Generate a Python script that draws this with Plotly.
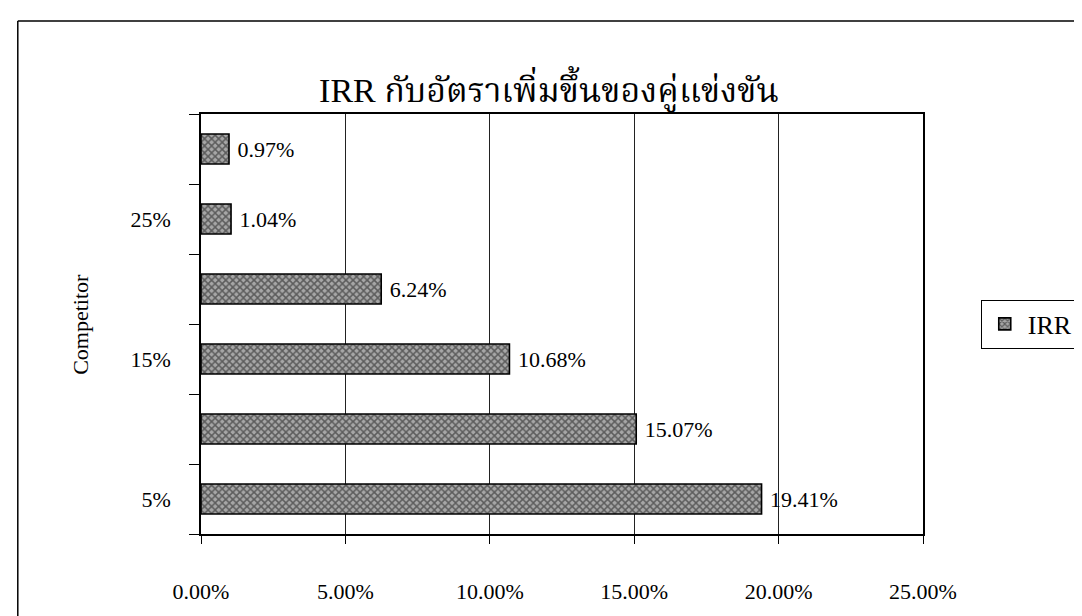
import plotly.graph_objects as go

# ---- data ----
categories = ["5%", "10%", "15%", "20%", "25%", "30%"]
irr = [0.1941, 0.1507, 0.1068, 0.0624, 0.0104, 0.0097]
shown_labels = ["5%", "15%", "25%"]
x_tick_values = [0.0, 0.05, 0.10, 0.15, 0.20, 0.25]
title_text = "IRR กับอัตราเพิ่มขึ้นของคู่แข่งขัน"
series_name = "IRR"
y_title = "Competitor"

positions = list(range(1, len(categories) + 1))
label_positions = [positions[categories.index(c)] for c in shown_labels]
boundaries = [p - 0.5 for p in positions] + [positions[-1] + 0.5]

SERIF = "Liberation Serif, Times New Roman, Noto Serif Thai, Noto Sans Thai, serif"

fig = go.Figure()
fig.add_trace(go.Bar(
    y=positions,
    x=irr,
    orientation="h",
    name=series_name,
    width=0.43,
    marker=dict(
        color="#7a7a7a",
        line=dict(color="black", width=1.6),
        pattern=dict(shape="x", fgcolor="#111111", bgcolor="#a6a6a6",
                     size=5, solidity=0.5),
    ),
    texttemplate=" %{x:.2%}",
    textposition="outside",
    textfont=dict(family=SERIF, size=22, color="black"),
    cliponaxis=False,
    hoverinfo="skip",
))

fig.update_layout(
    width=1082,
    height=616,
    margin=dict(l=193, r=156, t=106, b=90),
    paper_bgcolor="white",
    plot_bgcolor="white",
    font=dict(family=SERIF, size=22, color="black"),
    title=dict(text=title_text, x=0.5, xanchor="center", y=1 - 82 / 616,
               yanchor="middle", xref="container", yref="container",
               font=dict(family=SERIF, size=34, color="black")),
    showlegend=True,
    legend=dict(x=1.08, y=0.5, xanchor="left", yanchor="middle",
                bordercolor="black", borderwidth=1, bgcolor="white",
                itemwidth=36,
                font=dict(family=SERIF, size=26, color="black")),
    xaxis=dict(
        range=[0, 0.25],
        tickvals=x_tick_values,
        tickformat=".2%",
        tickfont=dict(family=SERIF, size=22, color="black"),
        showgrid=True, gridcolor="#222222", gridwidth=1,
        showline=True, linecolor="black", linewidth=1.5, mirror=True,
        ticks="outside", ticklen=8, tickcolor="black",
        ticklabelstandoff=29,
        zeroline=False,
        fixedrange=True,
    ),
    yaxis=dict(
        range=[0.5, len(categories) + 0.5],
        tickvals=label_positions,
        ticktext=shown_labels,
        tickfont=dict(family=SERIF, size=22, color="black"),
        ticks="",
        ticklabelstandoff=24,
        minor=dict(tickvals=boundaries, ticks="outside", ticklen=10,
                   tickcolor="black", showgrid=False),
        showgrid=False,
        showline=True, linecolor="black", linewidth=1.5, mirror=True,
        zeroline=False,
        fixedrange=True,
    ),
    annotations=[dict(
        text=y_title, textangle=-90, xref="paper", yref="paper",
        x=(70 - 193) / 733, y=0.5, xanchor="center", yanchor="middle",
        showarrow=False, font=dict(family=SERIF, size=22, color="black"),
    )],
    shapes=[
        dict(type="line", xref="paper", yref="paper",
             x0=(7 - 193) / 733, x1=(1082 - 193) / 733,
             y0=(526 - 13) / 420, y1=(526 - 13) / 420,
             line=dict(color="black", width=1.5)),
        dict(type="line", xref="paper", yref="paper",
             x0=(7 - 193) / 733, x1=(7 - 193) / 733,
             y0=(526 - 13) / 420, y1=(526 - 616) / 420,
             line=dict(color="black", width=1.5)),
    ],
)

fig.write_html("out.html")
